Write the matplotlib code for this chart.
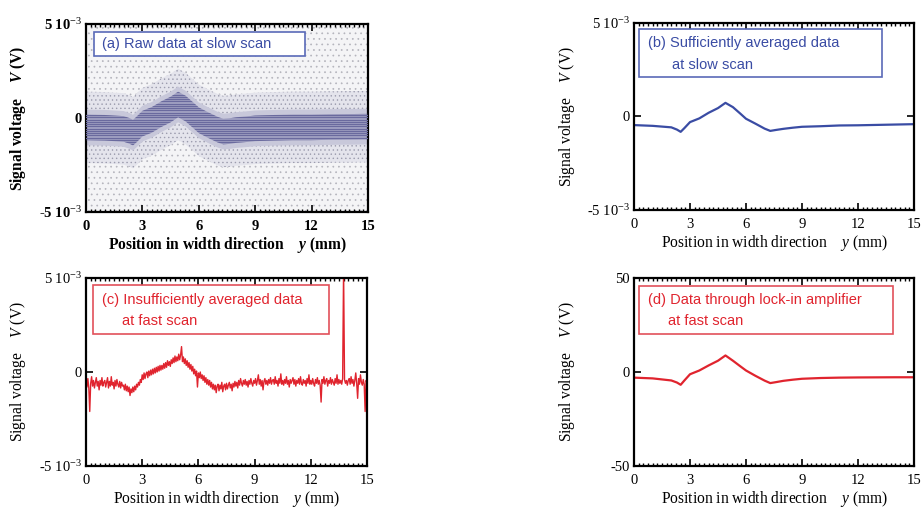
import numpy as np
import matplotlib
matplotlib.use("Agg")
import matplotlib.pyplot as plt
import matplotlib.ticker as mtick
from matplotlib.patches import Rectangle

plt.rcParams['font.family'] = ['Liberation Serif', 'DejaVu Serif']
plt.rcParams['mathtext.fontset'] = 'custom'
plt.rcParams['mathtext.rm'] = 'Liberation Serif'
plt.rcParams['mathtext.it'] = 'Liberation Serif:italic'
plt.rcParams['mathtext.bf'] = 'Liberation Serif:bold'
plt.rcParams['mathtext.bfit'] = 'Liberation Serif:italic:bold'
plt.rcParams['hatch.linewidth'] = 0.5

# ---- data (voltages in units of 1e-3 V for a, b, c; V for d) ----
# (a) raw data: centre of the dense band, its half width and speckle spread
a_x = [0, 1, 2, 2.3, 2.5, 2.7, 3.0, 3.5, 4.0, 4.5, 4.9, 5.3, 5.7, 6.0, 6.5, 7.0,
       7.3, 7.6, 8.0, 8.5, 9, 10, 11, 12, 13, 14, 15]
a_center = [-0.5, -0.52, -0.58, -0.68, -0.78, -0.6, -0.3, -0.1, 0.2, 0.45, 0.72, 0.5,
            0.15, -0.12, -0.38, -0.62, -0.72, -0.7, -0.64, -0.6, -0.55, -0.52, -0.5,
            -0.5, -0.48, -0.47, -0.46]
a_halfwidth = 0.68
a_fringe = 0.95
a_spread = 1.9

# (b) sufficiently averaged data at slow scan
b_x = [0, 1, 2, 2.3, 2.5, 2.7, 3.0, 3.5, 4.0, 4.5, 4.9, 5.3, 5.7, 6.0, 6.5, 7.0,
       7.3, 7.6, 8.0, 8.5, 9, 10, 11, 12, 13, 14, 15]
b_y = [-0.46, -0.5, -0.58, -0.7, -0.82, -0.62, -0.3, -0.1, 0.2, 0.45, 0.73, 0.5,
       0.15, -0.12, -0.38, -0.65, -0.77, -0.72, -0.66, -0.6, -0.55, -0.52, -0.48,
       -0.47, -0.45, -0.43, -0.41]

# (c) insufficiently averaged data at fast scan, one value every 0.05 mm
c_y = [
    -0.5, -0.8, -0.35, -0.85, -2.1, -0.6, -0.25, -0.75, -0.45, -0.85, -0.55, -0.3, -0.75, -0.5, -0.95, -0.45, -0.7, -0.3, -0.75, -0.55,
    -0.45, -0.8, -0.55, -0.3, -0.85, -0.5, -0.75, -0.25, -0.7, -0.55, -0.9, -0.45, -0.75, -0.4, -0.65, -0.8, -0.5, -0.85, -0.55, -0.75,
    -0.7, -0.95, -0.65, -1.0, -0.75, -1.05, -0.8, -1.25, -0.9, -1.1, -0.8, -1.05, -0.75, -0.95, -0.65, -0.8, -0.55, -0.7, -0.4, -0.55,
    -0.15, -0.4, -0.05, -0.35, -0.1, -0.0, -0.3, 0.05, -0.2, 0.1, -0.15, 0.15, -0.1, 0.2, -0.05, 0.25, 0.0, 0.3, 0.05, 0.35,
    0.1, 0.35, 0.15, 0.45, 0.2, 0.5, 0.25, 0.6, 0.35, 0.55, 0.3, 0.65, 0.45, 0.75, 0.5, 0.85, 0.55, 0.8, 0.6, 0.95,
    0.65, 0.9, 1.35, 0.55, 0.8, 0.45, 0.7, 0.35, 0.6, 0.25, 0.5, 0.15, 0.4, 0.05, 0.3, -0.1, 0.15, -0.2, 0.05, -0.8,
    -0.05, -0.3, 0.0, -0.35, -0.15, -0.45, -0.2, -0.55, -0.3, -0.65, -0.4, -0.7, -0.45, -0.8, -0.55, -0.9, -0.65, -0.95, -0.7, -1.1,
    -0.75, -0.65, -1.0, -0.7, -0.9, -0.55, -1.05, -0.75, -0.65, -0.95, -0.6, -0.9, -0.7, -0.55, -0.85, -0.65, -1.0, -0.6, -0.8, -0.5,
    -0.75, -0.55, -0.85, -0.45, -0.7, -0.35, -0.6, -0.75, -0.45, -0.65, -0.4, -0.7, -0.5, -0.8, -0.45, -0.65, -0.35, -0.6, -0.75, -0.45,
    -0.6, -0.35, -0.7, -0.45, -0.15, -0.65, -0.4, -0.75, -0.45, -0.95, -0.5, -0.35, -0.65, -0.45, -0.7, -0.4, -0.6, -0.3, -0.65, -0.45,
    -0.4, -0.65, -0.25, -0.6, -0.45, -0.75, -0.35, -0.6, -0.1, -0.65, -0.45, -0.7, -0.4, -0.6, -0.25, -0.65, -0.45, -0.8, -0.4, -0.6,
    -0.45, -0.3, -0.65, -0.4, -0.75, -0.45, -0.6, -0.35, -0.65, -0.25, -0.6, -0.7, -0.4, -0.6, -0.45, -0.75, -0.35, -0.6, -0.15, -0.65,
    -0.45, -0.65, -0.35, -0.6, -0.75, -0.4, -0.6, -0.3, -0.65, -0.45, -0.7, -1.6, -0.4, -0.6, -0.25, -0.65, -0.45, -0.35, -0.75, -0.45,
    -0.6, -0.3, -0.65, -0.4, -0.55, -0.7, -0.35, -0.6, -0.15, -0.65, -0.4, -0.6, -0.45, -0.65, -0.35, 5.5, -0.4, -0.6, -0.45, -0.7,
    -0.45, -0.35, -0.65, -0.25, -0.6, -0.4, -0.75, -0.45, -0.05, -0.6, -1.4, -0.35, -0.65, -0.15, -0.55, -0.7, -0.4, -0.65, -2.1, -0.45,
    -0.55]
c_x = np.linspace(0, 15, len(c_y))

# (d) data through lock-in amplifier at fast scan
d_x = [0, 1, 2, 2.3, 2.5, 2.7, 3.0, 3.5, 4.0, 4.5, 4.9, 5.3, 5.7, 6.0, 6.5, 7.0,
       7.3, 7.6, 8.0, 8.5, 9, 10, 11, 12, 13, 14, 15]
d_y = [-3.0, -3.4, -4.5, -5.6, -6.8, -4.5, -1.2, 0.8, 3.5, 6.0, 8.8, 6.0, 3.0, 0.8,
       -2.0, -4.6, -5.9, -5.4, -4.7, -4.1, -3.6, -3.2, -3.0, -2.9, -2.85, -2.8, -2.8]

x_ticks = [0, 3, 6, 9, 12, 15]

BLUE = '#3a4ca4'
RED = '#e0242e'

W, H = 922, 508
fig = plt.figure(figsize=(W / 100, H / 100), dpi=100)


def axes_px(left, right, top, bottom):
    return fig.add_axes([left / W, 1 - bottom / H, (right - left) / W, (bottom - top) / H])


def style_axes(ax, ylim, ylabels, bold=False):
    weight = 'bold' if bold else 'normal'
    ax.set_xlim(0, 15)
    ax.set_ylim(*ylim)
    ax.set_xticks(x_ticks)
    ax.xaxis.set_minor_locator(mtick.MultipleLocator(0.25))
    ax.set_yticks([ylim[0], 0, ylim[1]])
    ax.set_yticklabels(ylabels)
    ax.tick_params(axis='x', which='major', direction='in', top=True, length=5, width=1.2,
                   labelsize=10.5, pad=6)
    ax.tick_params(axis='x', which='minor', direction='in', top=True, length=2.5, width=1.0)
    ax.tick_params(axis='y', direction='in', right=True, length=5, width=1.2, labelsize=10.5, pad=3)
    for lab in ax.get_xticklabels() + ax.get_yticklabels():
        lab.set_fontweight(weight)
    for s in ax.spines.values():
        s.set_linewidth(1.6)
    if bold:
        ax.set_xlabel('Position in width direction    $\\mathbfit{y}$ (mm)', fontsize=11.2,
                      fontweight='bold', labelpad=1.5)
        ax.set_ylabel('Signal voltage    $\\mathbfit{V}$ (V)', fontsize=11.2,
                      fontweight='bold')
    else:
        ax.set_xlabel('Position in width direction    $y$ (mm)', fontsize=11.2, labelpad=1.5)
        ax.set_ylabel('Signal voltage    $V$ (V)', fontsize=11.2)
    ax.yaxis.set_label_coords(-0.205, 0.5)


def label_box(ax, box, lines, color, edge):
    x0, x1, y0, y1 = box
    ax.add_patch(Rectangle((x0, y0), x1 - x0, y1 - y0, transform=ax.transAxes,
                           facecolor='white', edgecolor=edge, linewidth=1.2, zorder=5))
    for (tx, ty, s) in lines:
        ax.text(tx, ty, s, transform=ax.transAxes, color=color, fontsize=10.5,
                family=['Liberation Sans', 'DejaVu Sans'], va='center', ha='left', zorder=6)


# ---- (a) raw data ----
ax = axes_px(86, 368, 24, 212)
xa = np.array(a_x)
ca = np.array(a_center) * 1e-3
# sparse speckle over the whole frame, getting denser towards the band
ax.fill_between([0, 15], -5e-3, 5e-3, facecolor='#f4f4f6', edgecolor='#b4b4bc',
                hatch='...', linewidth=0, zorder=1)
ax.fill_between(xa, ca - a_spread * 1e-3, ca + a_spread * 1e-3, facecolor='#e4e4ec',
                edgecolor='#9c9cae', hatch='....', linewidth=0, zorder=1)
ax.fill_between(xa, ca - a_fringe * 1e-3, ca + a_fringe * 1e-3, facecolor='#c8c8da',
                edgecolor='none', zorder=2)
band = ax.fill_between(xa, ca - a_halfwidth * 1e-3, ca + a_halfwidth * 1e-3,
                       facecolor='#a4a4c4', edgecolor='none', zorder=2)
for lev in np.arange(-5e-3, 5e-3, 0.12e-3):
    ln = ax.axhline(lev, color='#6a6a9e', linewidth=0.9, zorder=3)
    ln.set_clip_path(band.get_paths()[0], ax.transData)
style_axes(ax, (-5e-3, 5e-3), ['-5 10$^{-3}$', '0', '5 10$^{-3}$'], bold=True)
label_box(ax, (0.028, 0.777, 0.83, 0.957), [(0.057, 0.894, '(a) Raw data at slow scan')],
          BLUE, '#5a6ab8')

# ---- (b) averaged data ----
ax = axes_px(634, 914, 23, 210)
ax.plot(b_x, np.array(b_y) * 1e-3, color=BLUE, linewidth=1.6)
style_axes(ax, (-5e-3, 5e-3), ['-5 10$^{-3}$', '0', '5 10$^{-3}$'])
label_box(ax, (0.018, 0.886, 0.711, 0.968),
          [(0.049, 0.891, '(b) Sufficiently averaged data'), (0.136, 0.775, 'at slow scan')],
          BLUE, '#5a6ab8')

# ---- (c) insufficiently averaged data ----
ax = axes_px(86, 367, 278, 466)
ax.plot(c_x, np.array(c_y) * 1e-3, color=RED, linewidth=1.0)
style_axes(ax, (-5e-3, 5e-3), ['-5 10$^{-3}$', '0', '5 10$^{-3}$'])
label_box(ax, (0.025, 0.865, 0.702, 0.963),
          [(0.056, 0.883, '(c) Insufficiently averaged data'), (0.129, 0.771, 'at fast scan')],
          RED, '#e2505a')

# ---- (d) lock-in amplifier ----
ax = axes_px(634, 914, 278, 466)
ax.plot(d_x, d_y, color=RED, linewidth=1.6)
style_axes(ax, (-50, 50), ['-50', '0', '50'])
label_box(ax, (0.018, 0.925, 0.702, 0.957),
          [(0.049, 0.883, '(d) Data through lock-in amplifier'), (0.121, 0.771, 'at fast scan')],
          RED, '#e2505a')

fig.savefig('out.png', dpi=100)
